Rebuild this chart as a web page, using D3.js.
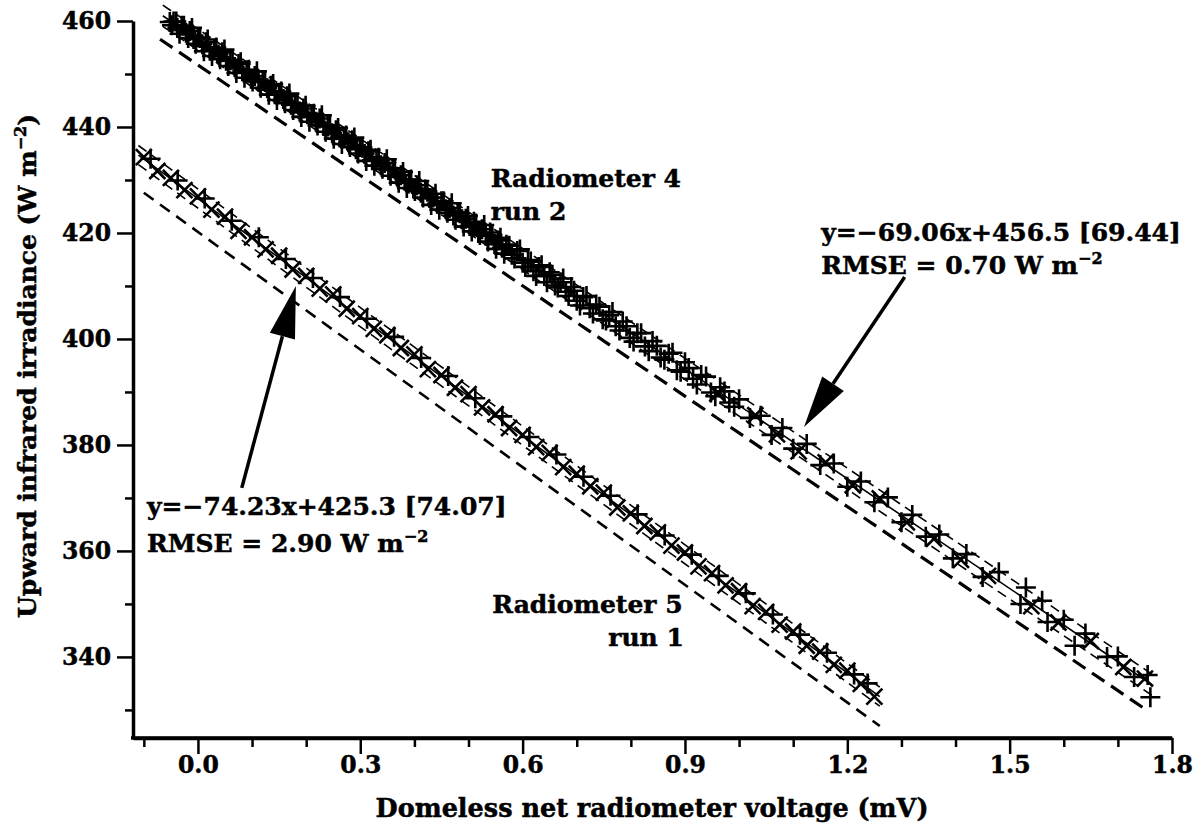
<!DOCTYPE html>
<html>
<head>
<meta charset="utf-8">
<script src="https://cdn.jsdelivr.net/npm/d3@7"></script>
<style>
  body { margin: 0; background: #fff; }
  text { font-family: "DejaVu Serif", serif; font-weight: bold; fill: #000; stroke: #000; stroke-width: 0.5px; }
</style>
</head>
<body>
<div id="chart"></div>
<script>
// Radiometer 4, run 2 ("+" markers)
const r4x = [-0.052,-0.045,-0.038,-0.030,-0.022,-0.015,-0.008,0.000,0.008,0.015,0.022,0.030,0.038,0.045,0.052,0.060,0.068,0.075,0.082,0.090,
  0.098,0.105,0.112,0.120,0.128,0.135,0.142,0.150,0.158,0.165,0.172,0.180,0.188,0.195,0.202,0.210,0.218,0.225,0.232,0.240,
  0.248,0.255,0.262,0.270,0.278,0.285,0.292,0.300,0.308,0.315,0.322,0.330,0.338,0.345,0.352,0.360,0.368,0.375,0.382,0.390,
  0.398,0.405,0.412,0.420,0.428,0.435,0.442,0.450,0.458,0.465,0.472,0.480,0.488,0.495,0.502,0.510,0.518,0.525,0.532,0.540,
  0.548,0.555,0.562,0.570,0.580,0.590,0.600,0.610,0.620,0.630,0.640,0.650,0.660,0.670,0.680,0.690,0.700,0.712,0.724,0.736,
  0.748,0.760,0.772,0.785,0.798,0.812,0.826,0.840,0.855,0.870,0.885,0.900,0.915,0.930,0.948,0.965,0.982,1.000,1.020,1.040,
  1.060,1.080,1.100,1.125,1.150,1.175,1.200,1.225,1.250,1.275,1.300,1.320,1.345,1.370,1.395,1.420,1.450,1.480,1.520,1.530,
  1.560,1.570,1.600,1.620,1.640,1.680,1.700,1.730,1.755,1.760];
const r4y = [459.8,459.9,458.7,459.1,457.8,458.1,456.6,456.9,455.6,456.0,454.4,454.7,453.7,454.1,452.5,452.6,451.3,451.9,450.5,450.7,
  449.1,449.6,448.6,448.7,447.3,447.8,446.2,446.3,445.3,445.8,444.2,444.4,442.9,443.5,442.4,442.4,441.0,441.6,440.2,440.1,
  438.8,439.4,438.0,438.2,437.1,437.5,435.8,436.2,434.9,435.4,433.7,433.9,432.8,433.2,431.9,432.2,430.6,430.9,429.9,430.0,
  428.4,429.0,427.6,428.2,426.6,426.7,425.5,426.0,424.5,424.7,423.3,423.9,422.6,422.7,421.3,422.1,420.0,420.7,419.5,420.1,
  417.9,418.6,417.2,417.8,415.9,416.6,414.4,414.9,412.8,413.6,411.9,412.6,410.1,410.7,408.9,409.8,407.2,407.9,405.8,406.5,
  403.7,404.5,402.4,403.3,400.2,401.1,398.6,399.6,396.5,397.2,394.1,395.6,392.5,393.2,389.9,390.9,388.0,388.6,385.1,385.5,
  381.9,383.2,379.3,380.2,376.2,376.5,372.1,373.1,369.2,370.1,365.4,366.8,362.7,363.1,358.6,359.4,355.1,356.0,350.0,353.1,
  350.6,346.6,347.0,342.1,344.4,340.0,340.1,336.2,336.6,332.4];
// Radiometer 4, run 2 (second "+" set, dense part)
const r4xC = [-0.048,-0.040,-0.034,-0.026,-0.018,-0.011,-0.004,0.004,0.011,0.018,0.026,0.034,0.041,0.049,0.056,0.064,0.071,0.079,0.086,0.094,
  0.101,0.109,0.116,0.124,0.131,0.139,0.146,0.154,0.161,0.169,0.176,0.184,0.191,0.199,0.206,0.214,0.221,0.229,0.236,0.244,
  0.251,0.259,0.266,0.274,0.281,0.289,0.296,0.304,0.311,0.319,0.326,0.334,0.341,0.349,0.356,0.364,0.371,0.379,0.386,0.394,
  0.401,0.409,0.416,0.424,0.431,0.439,0.446,0.454,0.461,0.469,0.476,0.484,0.491,0.499,0.506,0.514,0.521,0.529,0.536,0.544,
  0.551,0.559,0.566,0.575,0.585,0.595,0.605,0.615,0.625,0.635,0.645,0.655,0.665,0.675,0.685,0.695,0.706,0.718,0.730,0.742,
  0.754,0.766,0.779,0.792,0.805,0.819,0.833,0.848,0.862,0.877,0.892,0.907,0.922,0.939,0.956,0.973,0.991];
const r4yC = [459.2,459.9,457.6,459.1,456.8,458.7,455.7,456.8,454.3,456.5,453.4,455.0,452.8,454.6,451.5,452.7,450.2,452.2,449.3,450.8,
  448.6,450.5,447.4,448.5,446.1,448.1,445.1,446.7,444.5,446.3,443.2,444.4,441.9,444.0,441.0,442.5,440.3,442.2,439.1,440.3,
  437.8,439.8,436.8,438.4,436.2,438.0,435.0,436.1,433.6,435.7,432.7,434.2,432.1,433.9,430.8,432.0,429.5,431.5,428.5,430.1,
  427.9,429.8,426.7,427.8,425.3,427.4,424.4,426.0,423.8,425.6,422.5,423.7,421.2,423.2,420.3,421.8,419.6,421.5,418.4,419.5,
  417.0,419.1,416.1,417.6,415.2,416.9,413.6,414.6,411.9,413.9,410.7,412.1,409.7,411.4,408.1,409.1,406.3,408.1,404.8,406.1,
  403.5,405.1,401.6,402.4,399.5,401.1,397.7,398.7,396.1,397.4,393.8,394.5,391.4,392.9,389.2,390.1,387.2];
// Radiometer 4, run 2 ("x" markers)
const r4xB = [0.96,1.03,1.07,1.11,1.16,1.21,1.26,1.31,1.36,1.41,1.46,1.54,1.59,1.65,1.71,1.75];
const r4yB = [389.7,385.6,382.0,378.8,376.7,372.4,369.9,365.4,362.3,358.3,355.3,349.6,346.5,343.0,338.1,335.9];

// Radiometer 5, run 1 ("x" markers)
const r5x = [-0.100,-0.075,-0.050,-0.025,0.000,0.025,0.050,0.075,0.100,0.125,0.150,0.175,0.200,0.225,0.250,0.275,0.300,0.325,
  0.350,0.375,0.400,0.425,0.450,0.475,0.500,0.525,0.550,0.575,0.600,0.625,0.650,0.675,0.700,0.725,0.750,0.775,0.800,0.825,
  0.850,0.875,0.900,0.925,0.950,0.975,1.000,1.025,1.050,1.075,1.100,1.125,1.150,1.175,1.200,1.225,1.250];
const r5y = [434.3,431.7,430.4,428.1,426.9,424.4,423.1,420.4,419.2,416.9,415.7,413.1,411.9,409.5,408.4,405.7,404.3,401.9,
  400.7,398.3,397.1,394.3,393.2,390.8,389.6,387.1,385.8,383.2,381.9,379.6,378.5,375.8,374.6,372.2,371.0,368.2,367.1,364.7,
  363.5,361.0,359.7,357.1,355.8,353.5,352.4,349.6,348.5,346.1,344.8,342.1,341.0,338.5,337.4,334.9,332.5];
// Radiometer 5, run 1 ("+" markers)
const r5xB = [-0.0875,-0.0375,0.0125,0.0625,0.1125,0.1625,0.2125,0.2625,0.3125,0.3625,0.4125,0.4625,0.5125,0.5625,
  0.6125,0.6625,0.7125,0.7625,0.8125,0.8625,0.9125,0.9625,1.0125,1.0625,1.1125,1.1625,1.2125,1.2375];
const r5yB = [434.0,429.9,426.5,422.3,419.2,415.1,411.5,407.9,403.8,400.4,396.4,393.0,388.8,385.4,
  381.5,378.2,374.0,370.4,366.9,362.9,359.3,355.3,352.0,348.0,344.2,340.8,336.7,335.0];

// fitted lines: [slope, intercept], x extent, +/- band
const r4Fit = [-69.06, 456.5], r4FitX = [-0.065, 1.765], r4Band = 2.0;
const r4Ref = [-69.44, 451.7], r4RefX = [-0.07, 1.75];
const r5Fit = [-74.6, 426.5], r5FitX = [-0.11, 1.26], r5Band = 1.8;
const r5Ref = [-74.0, 420.2], r5RefX = [-0.10, 1.26];

const xTicks = [0.0, 0.3, 0.6, 0.9, 1.2, 1.5, 1.8];
const xMinor = [-0.1, 0.1, 0.2, 0.4, 0.5, 0.7, 0.8, 1.0, 1.1, 1.3, 1.4, 1.6, 1.7];
const yTicks = [340, 360, 380, 400, 420, 440, 460];
const yMinor = [330, 350, 370, 390, 410, 430, 450];

var width = 1200, height = 827;

var x = d3.scaleLinear().domain([-0.12, 1.8]).range([133, 1172]);
var y = d3.scaleLinear().domain([324.7, 460]).range([738, 21]);

var svg = d3.select('#chart').append('svg')
    .attr('width', width)
    .attr('height', height);

// axes
svg.append('g')
    .attr('transform', 'translate(133,0)')
    .call(d3.axisLeft(y).tickValues(yTicks).tickSize(16).tickSizeOuter(0).tickFormat(d3.format('d')).tickPadding(6));
svg.append('g')
    .attr('transform', 'translate(133,0)')
    .call(d3.axisLeft(y).tickValues(yMinor).tickSize(8).tickSizeOuter(0).tickFormat(''))
    .select('.domain').remove();

svg.append('g')
    .attr('transform', 'translate(0,738)')
    .call(d3.axisBottom(x).tickValues(xTicks).tickSize(16).tickSizeOuter(0).tickFormat(d3.format('.1f')).tickPadding(2));
svg.append('g')
    .attr('transform', 'translate(0,738)')
    .call(d3.axisBottom(x).tickValues(xMinor).tickSize(9).tickSizeOuter(0).tickFormat(''))
    .select('.domain').remove();

svg.selectAll('.domain').attr('stroke-width', 3.5).attr('stroke', '#000');
svg.selectAll('.tick line').attr('stroke-width', 2.5).attr('stroke', '#000');
svg.selectAll('.tick text')
    .attr('font-family', null).attr('font-size', null)
    .attr('fill', '#000')
    .style('font-family', '"DejaVu Serif", serif')
    .style('font-weight', 'bold')
    .style('font-size', '23.5px');

// x domain line should span full width incl. left corner
svg.append('line')
    .attr('x1', 131).attr('x2', x(1.8))
    .attr('y1', 738).attr('y2', 738)
    .attr('stroke', '#000').attr('stroke-width', 3.5);

// lines
function seg(fit, ext, off) {
    return ext.map(v => [x(v), y(fit[0] * v + fit[1] + off)]);
}
var line = d3.line();
var lines = svg.append('g').attr('fill', 'none').attr('stroke', '#000');

[[r4Fit, r4FitX, r4Band], [r5Fit, r5FitX, r5Band]].forEach(function (s) {
    lines.append('path').attr('d', line(seg(s[0], s[1], 0))).attr('stroke-width', 1.6);
    lines.append('path').attr('d', line(seg(s[0], s[1], s[2]))).attr('stroke-width', 1.6).attr('stroke-dasharray', '10,6');
    lines.append('path').attr('d', line(seg(s[0], s[1], -s[2]))).attr('stroke-width', 1.6).attr('stroke-dasharray', '10,6');
});
lines.append('path').attr('d', line(seg(r4Ref, r4RefX, 0))).attr('stroke-width', 3.2).attr('stroke-dasharray', '15,8');
lines.append('path').attr('d', line(seg(r5Ref, r5RefX, 0))).attr('stroke-width', 2.6).attr('stroke-dasharray', '12,8');

// markers
var plus = 'M-10,0H10M0,-10V10';
var cross = 'M-8,-8L8,8M-8,8L8,-8';
function markers(xs, ys, shape) {
    svg.append('g').selectAll('path')
        .data(xs)
        .enter()
        .append('path')
        .attr('d', shape)
        .attr('transform', (d, i) => 'translate(' + x(d) + ',' + y(ys[i]) + ')')
        .attr('fill', 'none')
        .attr('stroke', '#000')
        .attr('stroke-width', 2.6);
}
markers(r4x, r4y, plus);
markers(r4xC, r4yC, plus);
markers(r4xB, r4yB, cross);
markers(r5x, r5y, cross);
markers(r5xB, r5yB, plus);

// arrows (tail -> tip, data units)
const arrows = [[[1.306, 411.7], [1.12, 383.4]], [[0.081, 371.9], [0.181, 410.0]]];
arrows.forEach(function (a) {
    var x0 = x(a[0][0]), y0 = y(a[0][1]), x1 = x(a[1][0]), y1 = y(a[1][1]);
    var ang = Math.atan2(y1 - y0, x1 - x0);
    var hl = 52, hw = 13;
    var bx = x1 - hl * Math.cos(ang), by = y1 - hl * Math.sin(ang);
    svg.append('line')
        .attr('x1', x0).attr('y1', y0).attr('x2', bx).attr('y2', by)
        .attr('stroke', '#000').attr('stroke-width', 3.5);
    svg.append('path')
        .attr('d', 'M' + x1 + ',' + y1 +
            'L' + (bx + hw * Math.sin(ang)) + ',' + (by - hw * Math.cos(ang)) +
            'L' + (bx - hw * Math.sin(ang)) + ',' + (by + hw * Math.cos(ang)) + 'Z')
        .attr('fill', '#000');
});

// annotations
function label(px, py, txt, sup, anchor) {
    var t = svg.append('text')
        .attr('x', x(px)).attr('y', y(py))
        .attr('text-anchor', anchor || 'start')
        .style('font-size', '25px')
        .text(txt);
    if (sup) {
        t.append('tspan').attr('dy', -10).style('font-size', '16px').text(sup);
    }
}
label(0.541, 428.7, 'Radiometer 4');
label(0.541, 422.5, 'run 2');
label(1.152, 418.5, 'y=\u221269.06x+456.5 [69.44]');
label(1.152, 412.3, 'RMSE = 0.70 W m', '\u22122');
label(-0.094, 366.8, 'y=\u221274.23x+425.3 [74.07]');
label(-0.094, 359.8, 'RMSE = 2.90 W m', '\u22122');
label(0.544, 348.3, 'Radiometer 5');
label(0.898, 342.0, 'run 1', null, 'end');

// axis titles
svg.append('text')
    .attr('x', 652).attr('y', 817)
    .attr('text-anchor', 'middle')
    .style('font-size', '25.5px')
    .text('Domeless net radiometer voltage (mV)');

var yt = svg.append('text')
    .attr('transform', 'translate(36,366) rotate(-90)')
    .attr('text-anchor', 'middle')
    .style('font-size', '25px')
    .text('Upward infrared irradiance (W m');
yt.append('tspan').attr('dy', -10).style('font-size', '16px').text('\u22122');
yt.append('tspan').attr('dy', 10).text(')');
</script>
</body>
</html>
